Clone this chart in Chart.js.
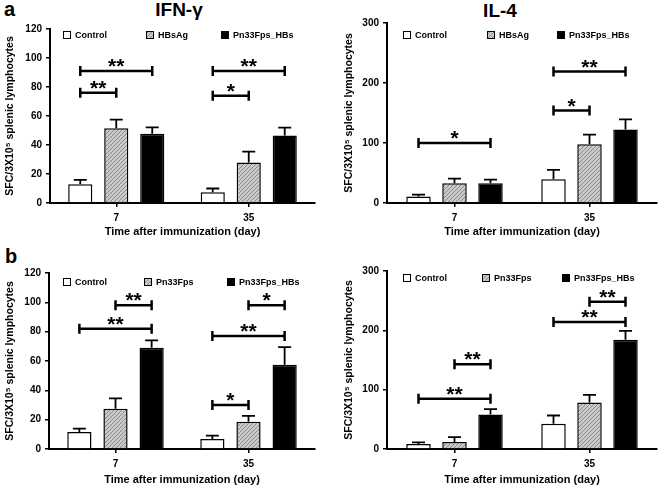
<!DOCTYPE html>
<html>
<head>
<meta charset="utf-8">
<script src="https://cdn.jsdelivr.net/npm/chart.js@4.4.0/dist/chart.umd.min.js"></script>
<style>
  body { margin: 0; background: #fff; width: 658px; height: 488px; position: relative; overflow: hidden; font-family: "Liberation Sans", Arial, sans-serif; }
  canvas { position: absolute; }
  .lbl { position: absolute; font-weight: bold; color: #000; line-height: 1; white-space: nowrap; }
</style>
</head>
<body>
<div class="lbl" style="left:4px;top:-1px;font-size:20px">a</div>
<div class="lbl" style="left:129px;top:0px;width:100px;text-align:center;font-size:19px">IFN-γ</div>
<div class="lbl" style="left:450px;top:1px;width:100px;text-align:center;font-size:19px">IL-4</div>
<div class="lbl" style="left:5px;top:246px;font-size:20px">b</div>

<canvas id="ifnA" style="left:0;top:0" width="330" height="240"></canvas>
<canvas id="il4A" style="left:330px;top:0" width="328" height="240"></canvas>
<canvas id="ifnB" style="left:0;top:240px" width="330" height="248"></canvas>
<canvas id="il4B" style="left:330px;top:240px" width="328" height="248"></canvas>

<script>
const days = ['7', '35'];
const namesA = ['Control', 'HBsAg', 'Pn33Fps_HBs'];
const namesB = ['Control', 'Pn33Fps', 'Pn33Fps_HBs'];

// panel a, IFN-γ
const ifnAControl = [13, 7.5];
const ifnAControlErr = [3, 2.5];
const ifnAHbsag = [51.5, 28];
const ifnAHbsagErr = [6, 7.4];
const ifnAFusion = [47.7, 46.5];
const ifnAFusionErr = [4.4, 5.5];
const ifnASig = [[0, 0, 1, 76, '**'], [0, 0, 2, 91, '**'], [1, 0, 2, 91, '**'], [1, 0, 1, 74, '*']];

// panel a, IL-4
const il4AControl = [11, 39.6];
const il4AControlErr = [3, 15.5];
const il4AHbsag = [33, 98];
const il4AHbsagErr = [7.5, 16];
const il4AFusion = [33, 122.5];
const il4AFusionErr = [6, 17];
const il4ASig = [[0, 0, 2, 100, '*'], [1, 0, 1, 154, '*'], [1, 0, 2, 219, '**']];

// panel b, IFN-γ
const ifnBControl = [11.6, 6.8];
const ifnBControlErr = [2.3, 2.3];
const ifnBFps = [27.5, 18.6];
const ifnBFpsErr = [7, 4];
const ifnBFusion = [69, 57.5];
const ifnBFusionErr = [5, 12];
const ifnBSig = [[0, 0, 2, 82, '**'], [0, 1, 2, 98, '**'], [1, 0, 2, 77, '**'], [1, 1, 2, 98, '*'], [1, 0, 1, 30, '*']];

// panel b, IL-4
const il4BControl = [8.4, 42.5];
const il4BControlErr = [2.8, 14];
const il4BFps = [11.8, 78.3];
const il4BFpsErr = [8.3, 13];
const il4BFusion = [58.2, 184];
const il4BFusionErr = [9, 15];
const il4BSig = [[0, 0, 2, 84.5, '**'], [0, 1, 2, 143, '**'], [1, 0, 2, 214, '**'], [1, 1, 2, 248, '**']];

const FONT = '"Liberation Sans", Arial, sans-serif';
Chart.defaults.font.family = FONT;
Chart.defaults.color = '#000';

function hatch() {
    const c = document.createElement('canvas');
    c.width = 4; c.height = 4;
    const g = c.getContext('2d');
    g.fillStyle = '#cacaca';
    g.fillRect(0, 0, 4, 4);
    g.strokeStyle = '#8a8a8a';
    g.lineWidth = 1;
    [[-1, 5, 5, -1], [-1, 1, 1, -1], [3, 5, 5, 3]].forEach(l => {
        g.beginPath(); g.moveTo(l[0], l[1]); g.lineTo(l[2], l[3]); g.stroke();
    });
    return g.createPattern(c, 'repeat');
}
const fills = ['#ffffff', hatch(), '#000000'];

const extras = {
    id: 'extras',
    afterDatasetsDraw(chart, args, opts) {
        const ctx = chart.ctx;
        const y = chart.scales.y;
        const area = chart.chartArea;
        ctx.save();
        ctx.strokeStyle = '#000';
        // error bars, upper whisker only
        chart.data.datasets.forEach((ds, i) => {
            const meta = chart.getDatasetMeta(i);
            meta.data.forEach((bar, j) => {
                const top = y.getPixelForValue(ds.data[j]);
                const hi = y.getPixelForValue(ds.data[j] + ds.err[j]);
                ctx.lineWidth = 1.8;
                ctx.strokeStyle = '#000';
                ctx.beginPath();
                ctx.moveTo(bar.x, top);
                ctx.lineTo(bar.x, hi);
                ctx.moveTo(bar.x - 6.5, hi);
                ctx.lineTo(bar.x + 6.5, hi);
                ctx.stroke();
            });
        });
        // significance brackets
        opts.sig.forEach(s => {
            const x1 = chart.getDatasetMeta(s[1]).data[s[0]].x;
            const x2 = chart.getDatasetMeta(s[2]).data[s[0]].x;
            const yy = y.getPixelForValue(s[3]);
            ctx.lineWidth = 2.5;
            ctx.beginPath();
            ctx.moveTo(x1, yy); ctx.lineTo(x2, yy);
            ctx.moveTo(x1, yy - 5); ctx.lineTo(x1, yy + 5);
            ctx.moveTo(x2, yy - 5); ctx.lineTo(x2, yy + 5);
            ctx.stroke();
            ctx.fillStyle = '#000';
            ctx.font = 'bold 21px ' + FONT;
            ctx.textAlign = 'center';
            ctx.textBaseline = 'alphabetic';
            ctx.fillText(s[4], (x1 + x2) / 2, yy + 2);
        });
        // legend inside plot
        chart.data.datasets.forEach((ds, i) => {
            const bx = area.left + opts.legendX[i];
            const by = area.top + opts.legendY;
            ctx.fillStyle = ds.backgroundColor;
            ctx.fillRect(bx, by - 4, 8, 8);
            ctx.lineWidth = 1;
            ctx.strokeRect(bx + 0.5, by - 3.5, 7, 7);
            ctx.fillStyle = '#000';
            ctx.font = 'bold 9px ' + FONT;
            ctx.textAlign = 'left';
            ctx.textBaseline = 'middle';
            ctx.fillText(ds.label, bx + 12, by + 0.5);
        });
        ctx.restore();
    }
};

function makeChart(id, cfg) {
    const el = document.getElementById(id);
    const W = el.width, H = el.height;
    return new Chart(el, {
        type: 'bar',
        data: {
            labels: days,
            datasets: cfg.names.map((n, i) => ({
                label: n,
                data: cfg.values[i],
                err: cfg.errors[i],
                backgroundColor: fills[i],
                borderColor: '#000',
                borderWidth: 1.5,
                categoryPercentage: cfg.cp,
                barPercentage: cfg.bp
            }))
        },
        options: {
            responsive: false,
            animation: false,
            layout: { padding: { left: cfg.pl, top: cfg.area.top, right: W - cfg.area.right, bottom: 0 } },
            plugins: {
                legend: { display: false },
                tooltip: { enabled: false },
                extras: { sig: cfg.sig, legendX: cfg.legendX, legendY: cfg.legendY }
            },
            scales: {
                x: {
                    afterFit: s => { s.height = H - cfg.area.bottom; },
                    grid: { offset: false, drawOnChartArea: false, drawTicks: true, tickLength: 4, color: '#000', lineWidth: 1.5 },
                    border: { color: '#000', width: 2 },
                    ticks: { color: '#000', font: { size: 10, weight: 'bold' }, padding: 5 },
                    title: { display: true, text: 'Time after immunization (day)', color: '#000', font: { size: 11, weight: 'bold' }, padding: { top: 0, bottom: 1 } }
                },
                y: {
                    min: 0,
                    max: cfg.max,
                    afterFit: s => { s.width = cfg.area.left - cfg.pl; },
                    ticks: { stepSize: cfg.step, color: '#000', font: { size: 10, weight: 'bold' }, padding: 4 },
                    grid: { drawOnChartArea: false, tickLength: 4, color: '#000', lineWidth: 1.5 },
                    border: { color: '#000', width: 2 },
                    title: { display: true, text: 'SFC/3X10⁵ splenic lymphocytes', color: '#000', font: { size: 10.5, weight: 'bold' }, padding: { top: 4, bottom: 0 } }
                }
            }
        },
        plugins: [extras]
    });
}

makeChart('ifnA', {
    names: namesA, values: [ifnAControl, ifnAHbsag, ifnAFusion], errors: [ifnAControlErr, ifnAHbsagErr, ifnAFusionErr],
    sig: ifnASig, max: 120, step: 20, pl: 0,
    area: { left: 50, right: 315, top: 29, bottom: 203 },
    cp: 0.815, bp: 0.67, legendX: [13, 96, 171], legendY: 6
});
makeChart('il4A', {
    names: namesA, values: [il4AControl, il4AHbsag, il4AFusion], errors: [il4AControlErr, il4AHbsagErr, il4AFusionErr],
    sig: il4ASig, max: 300, step: 100, pl: 9,
    area: { left: 57, right: 327, top: 23, bottom: 203 },
    cp: 0.8, bp: 0.68, legendX: [16, 100, 170], legendY: 12
});
makeChart('ifnB', {
    names: namesB, values: [ifnBControl, ifnBFps, ifnBFusion], errors: [ifnBControlErr, ifnBFpsErr, ifnBFusionErr],
    sig: ifnBSig, max: 120, step: 20, pl: 0,
    area: { left: 49, right: 315, top: 33, bottom: 209 },
    cp: 0.815, bp: 0.67, legendX: [14, 95, 178], legendY: 9
});
makeChart('il4B', {
    names: namesB, values: [il4BControl, il4BFps, il4BFusion], errors: [il4BControlErr, il4BFpsErr, il4BFusionErr],
    sig: il4BSig, max: 300, step: 100, pl: 9,
    area: { left: 57, right: 327, top: 31, bottom: 209 },
    cp: 0.8, bp: 0.68, legendX: [16, 95, 175], legendY: 7
});
</script>
</body>
</html>
